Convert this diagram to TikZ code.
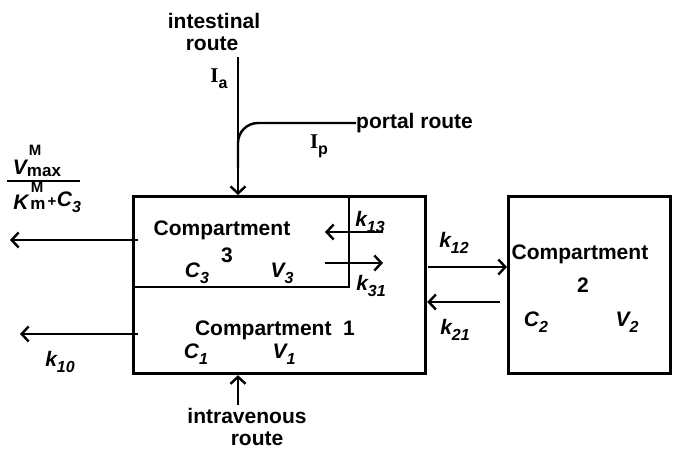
\documentclass[tikz,border=0pt]{standalone}
\usepackage{fontspec}
\setmainfont{Liberation Sans}
\newfontfamily\serifI{Liberation Serif}
\usetikzlibrary{arrows.meta}
\newcommand\lsub[1]{\raisebox{-0.55ex}{\fontsize{16}{16}\selectfont #1}}
\begin{document}
\begin{tikzpicture}[x=1pt,y=-1pt,
  lbl/.style={font=\fontsize{21}{23}\selectfont\bfseries, inner sep=0pt},
  small/.style={font=\fontsize{15}{16}\selectfont\bfseries, inner sep=0pt},
  boxline/.style={draw, line width=3.2pt, inner sep=0pt, anchor=north west},
  thinline/.style={line width=2.4pt},
  arr/.style={line width=2.4pt, -{Straight Barb[length=7pt,width=15pt,line width=2.4pt]}}]
\useasboundingbox (0,0) rectangle (673,449);

% boxes
\node[boxline, minimum width=292pt, minimum height=177pt] (c1box) at (132,195) {};
\node[boxline, minimum width=162pt, minimum height=177pt] (c2box) at (507,195) {};
\coordinate (c3ne) at (349,195);
\coordinate (c3se) at (349,287);
\coordinate (c3sw) at (132,287);
\draw[thinline] (c3ne) -- (c3se) -- (c3sw);

% compartment texts
\node[lbl] (t3a) at (222,230) {Compartment};
\node[lbl] (t3b) at (227,255) {3};
\node[lbl] (c3) at (197,273) {\itshape C\lsub{3}};
\node[lbl] (v3) at (282,273) {\itshape V\lsub{3}};
\node[lbl] (t1) at (275,330) {Compartment\ \ 1};
\node[lbl] (c1) at (196,354) {\itshape C\lsub{1}};
\node[lbl] (v1) at (284,354) {\itshape V\lsub{1}};
\node[lbl] (t2a) at (580,254) {Compartment};
\node[lbl] (t2b) at (583,285) {2};
\node[lbl] (c2) at (536,322) {\itshape C\lsub{2}};
\node[lbl] (v2) at (627,322) {\itshape V\lsub{2}};

% intestinal route
\node[lbl] (int1) at (214,21) {intestinal};
\node[lbl] (int2) at (212,44) {route};
\node[lbl] (ia) at (219,79) {{\serifI I}\lsub{a}};
\coordinate (iaTop) at (238,57);
\draw[arr] (iaTop) -- (iaTop |- c1box.north);

% portal route
\node[lbl, anchor=west] (portal) at (356,123) {portal route};
\node[lbl] (ip) at (319,146) {{\serifI I}\lsub{p}};
\coordinate (pJoin) at (238,168);
\draw[thinline, rounded corners=20pt] (portal.west) -- (pJoin |- portal.west) -- (pJoin);

% intravenous route
\node[lbl] (iv1) at (247,416) {intravenous};
\node[lbl] (iv2) at (257,439) {route};
\coordinate (ivBot) at (238,405);
\draw[arr] (ivBot) -- (ivBot |- c1box.south);

% elimination from compartment 3
\coordinate (o3s) at (138,240);
\coordinate (o3e) at (10,240);
\draw[arr] (o3s) -- (o3e);
\node[lbl] (vmax) at (20,167) {\itshape V};
\node[font=\fontsize{17}{18}\selectfont\bfseries, inner sep=0pt] (max) at (44,172) {max};
\node[small] (vm) at (35,150) {M};
\coordinate (fl) at (7,181);
\coordinate (fr) at (80,181);
\draw[thinline] (fl) -- (fr);
\node[lbl] (km) at (21,202) {\itshape K};
\node[font=\fontsize{17}{18}\selectfont\bfseries, inner sep=0pt] (kmm) at (38,205) {m};
\node[small] (kmM) at (37,187) {M};
\node[small] (plus) at (52,202) {+};
\node[lbl] (kc3) at (69,202) {\itshape C\lsub{3}};

% elimination from compartment 1
\coordinate (o1s) at (138,334);
\coordinate (o1e) at (20,334);
\draw[arr] (o1s) -- (o1e);
\node[lbl] (k10) at (60,362) {\itshape k\lsub{10}};

% exchange 1 <-> 3
\coordinate (k13s) at (383,232);
\coordinate (k13e) at (325,232);
\draw[arr] (k13s) -- (k13e);
\node[lbl] (k13) at (370,222) {\itshape k\lsub{13}};
\coordinate (k31s) at (325,263);
\coordinate (k31e) at (383,263);
\draw[arr] (k31s) -- (k31e);
\node[lbl] (k31) at (371,286) {\itshape k\lsub{31}};

% exchange 1 <-> 2
\coordinate (k12s) at (428,267);
\draw[arr] (k12s) -- (k12s -| c2box.west);
\node[lbl] (k12) at (454,243) {\itshape k\lsub{12}};
\coordinate (k21s) at (500,302);
\draw[arr] (k21s) -- (k21s -| c1box.east);
\node[lbl] (k21) at (455,330) {\itshape k\lsub{21}};
\end{tikzpicture}
\end{document}
